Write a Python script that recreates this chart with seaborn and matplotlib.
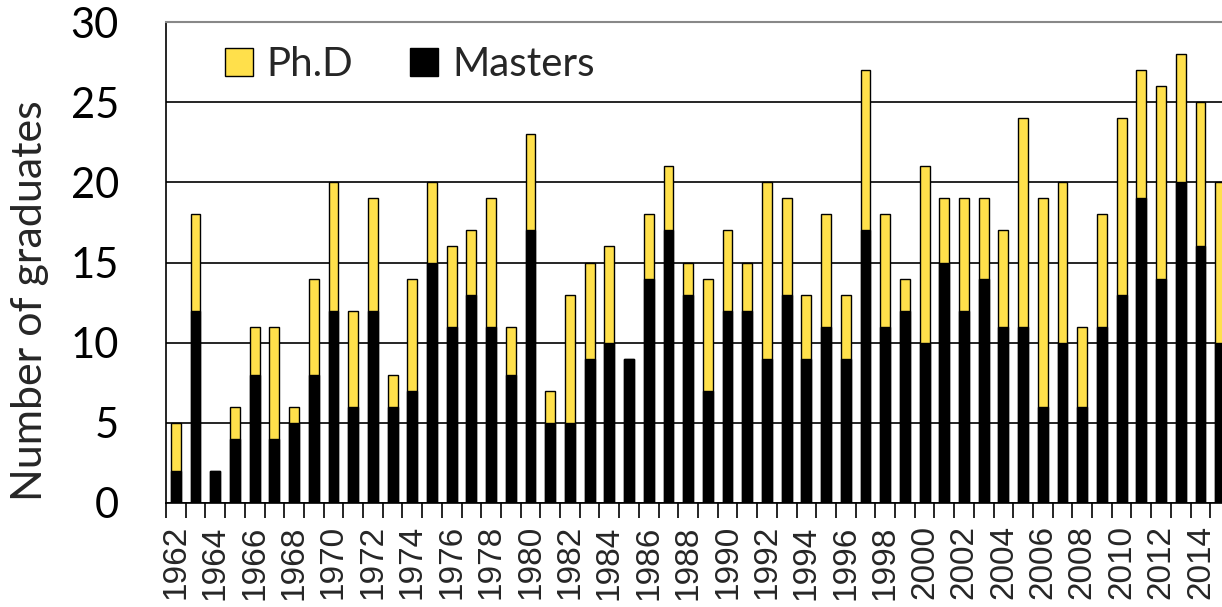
import matplotlib
matplotlib.use("Agg")
import matplotlib.pyplot as plt
import seaborn as sns
import pandas as pd
import numpy as np
from matplotlib.patches import Patch

years = [str(y) for y in range(1962, 2016)]
masters = [2, 12, 2, 4, 8, 4, 5, 8, 12, 6, 12, 6, 7, 15, 11, 13, 11, 8,
           17, 5, 5, 9, 10, 9, 14, 17, 13, 7, 12, 12, 9, 13, 9, 11, 9,
           17, 11, 12, 10, 15, 12, 14, 11, 11, 6, 10, 6, 11, 13, 19, 14, 20, 16, 10]
phd = [3, 6, 0, 2, 3, 7, 1, 6, 8, 6, 7, 2, 7, 5, 5, 4, 8, 3,
       6, 2, 8, 6, 6, 0, 4, 4, 2, 7, 5, 3, 11, 6, 4, 7, 4,
       10, 7, 2, 11, 4, 7, 5, 6, 13, 13, 10, 5, 7, 11, 8, 12, 8, 9, 10]
yticks = [0, 5, 10, 15, 20, 25, 30]

df = pd.DataFrame({"year": years, "masters": masters, "phd": phd})
df["total"] = df["masters"] + df["phd"]

sns.set_theme(style="white")
plt.rcParams["font.family"] = ["Lato", "DejaVu Sans"]

fig = plt.figure(figsize=(12.22, 6.07), dpi=100)
ax = fig.add_axes([166/1222, 104/607, 1064/1222, 481/607])

yellow = "#FFE04B"
sns.barplot(data=df, x="year", y="total", order=years, color=yellow, width=0.5,
            edgecolor="black", linewidth=1.0, saturation=1, ax=ax, zorder=3)
sns.barplot(data=df, x="year", y="masters", order=years, color="black", width=0.5,
            edgecolor="black", linewidth=1.0, saturation=1, ax=ax, zorder=4)

ax.set_xlim(-0.5, len(years) - 0.5)
ax.set_ylim(0, 30)
ax.set_yticks(yticks)
ax.set_yticklabels([str(v) for v in yticks], fontsize=30)
ax.yaxis.grid(True, color="black", linewidth=1.2, zorder=0)
ax.set_axisbelow(True)
ax.tick_params(axis="y", length=14, width=1.2, direction="inout", pad=27, colors="black")

pos = np.arange(len(years))
ax.set_xticks(pos[::2])
ax.set_xticklabels(years[::2], rotation=90, fontsize=24, family="Liberation Sans")
ax.set_xticks(np.arange(-0.5, len(years), 1.0), minor=True)
ax.tick_params(axis="x", which="major", length=0, pad=16)
ax.tick_params(axis="x", which="minor", length=11, width=1.2, direction="out", bottom=True, colors="black")

ax.spines["right"].set_visible(False)
ax.spines["top"].set_color("#888888")
ax.spines["top"].set_linewidth(1.5)
ax.spines["top"].set_zorder(5)
for s in ["left", "bottom"]:
    ax.spines[s].set_color("black")
    ax.spines[s].set_linewidth(1.2)

ax.set_xlabel("")
ax.set_ylabel("Number of graduates", fontsize=31)
ax.yaxis.set_label_coords(-0.11, 0.42)

handles = [Patch(facecolor=yellow, edgecolor="black", label="Ph.D"),
           Patch(facecolor="black", edgecolor="black", label="Masters")]
ax.legend(handles=handles, loc="upper left", bbox_to_anchor=(0.055, 0.95), ncol=2,
          frameon=False, fontsize=29, handlelength=0.7, handleheight=0.7,
          handletextpad=0.35, columnspacing=1.4, borderaxespad=0, borderpad=0)

fig.savefig("out.png", dpi=100)
